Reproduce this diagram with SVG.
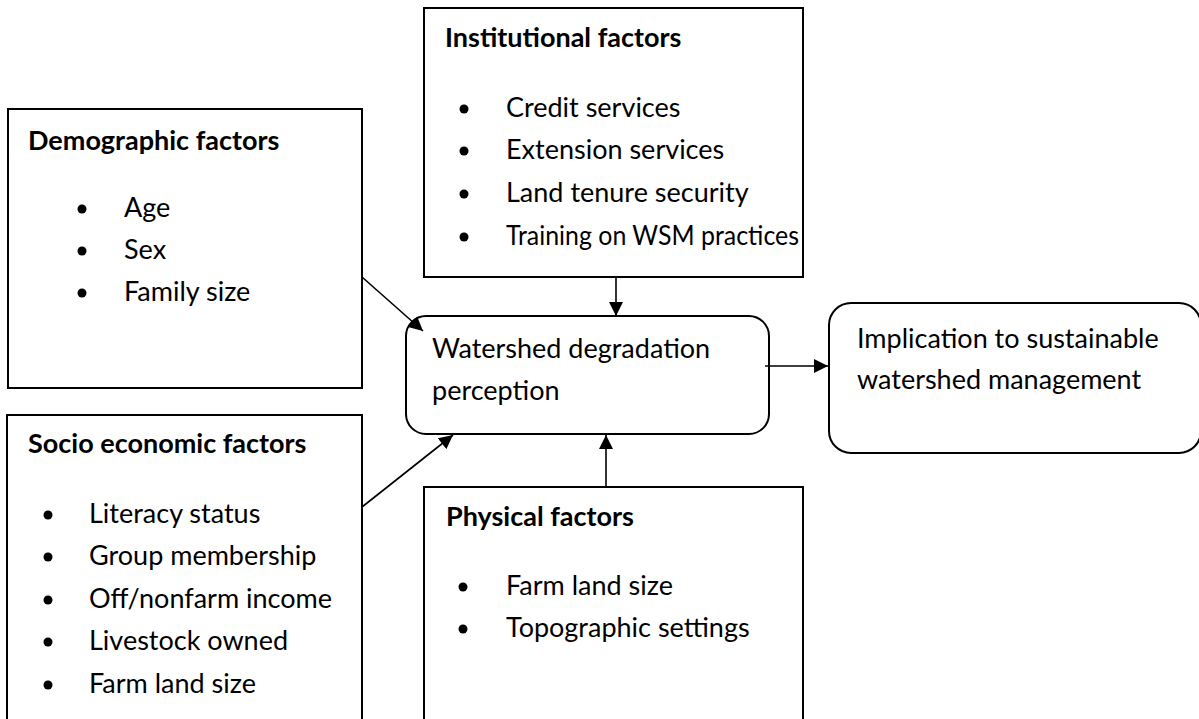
<svg xmlns="http://www.w3.org/2000/svg" width="1199" height="719" viewBox="0 0 1199 719">
<defs>
<style>
.box{fill:#fff;stroke:#000;stroke-width:2}
.t{font-family:Lato,"Liberation Sans",sans-serif;font-size:27px;fill:#000}
.h{font-family:Lato,"Liberation Sans",sans-serif;font-size:27px;font-weight:bold;fill:#000}
.c{stroke:#000;stroke-width:1.6;fill:none}
.b{fill:#000}
</style>
<marker id="ah" viewBox="0 0 10 10" refX="10" refY="5" markerWidth="14" markerHeight="14" markerUnits="userSpaceOnUse" orient="auto">
<path d="M0,0 L10,5 L0,10 z" fill="#000"/>
</marker>
</defs>
<rect width="1199" height="719" fill="#fff"/>
<g id="demographic">
<rect class="box" x="8" y="109" width="354" height="279"/>
<text class="h" x="28" y="150">Demographic factors</text>
<circle class="b" cx="82" cy="209" r="4.5"/><text class="t" x="124" y="217">Age</text>
<circle class="b" cx="82" cy="251" r="4.5"/><text class="t" x="124" y="259">Sex</text>
<circle class="b" cx="82" cy="293" r="4.5"/><text class="t" x="124" y="301">Family size</text>
</g>
<g id="institutional">
<rect class="box" x="424" y="8" width="379" height="269"/>
<text class="h" x="445" y="47">Institutional factors</text>
<circle class="b" cx="464" cy="109" r="4.5"/><text class="t" x="506" y="117">Credit services</text>
<circle class="b" cx="464" cy="151" r="4.5"/><text class="t" x="506" y="159">Extension services</text>
<circle class="b" cx="464" cy="194" r="4.5"/><text class="t" x="506" y="202">Land tenure security</text>
<circle class="b" cx="464" cy="237" r="4.5"/><text class="t" x="506" y="245" textLength="293" lengthAdjust="spacingAndGlyphs">Training on WSM practices</text>
</g>
<g id="socio">
<rect class="box" x="7" y="415" width="355" height="320"/>
<text class="h" x="28" y="453">Socio economic factors</text>
<circle class="b" cx="48" cy="515" r="4.5"/><text class="t" x="89" y="523">Literacy status</text>
<circle class="b" cx="48" cy="557" r="4.5"/><text class="t" x="89" y="565">Group membership</text>
<circle class="b" cx="48" cy="600" r="4.5"/><text class="t" x="89" y="608">Off/nonfarm income</text>
<circle class="b" cx="48" cy="642" r="4.5"/><text class="t" x="89" y="650">Livestock owned</text>
<circle class="b" cx="48" cy="685" r="4.5"/><text class="t" x="89" y="693">Farm land size</text>
</g>
<g id="physical">
<rect class="box" x="424" y="487" width="379" height="250"/>
<text class="h" x="446" y="526">Physical factors</text>
<circle class="b" cx="463" cy="587" r="4.5"/><text class="t" x="506" y="595">Farm land size</text>
<circle class="b" cx="463" cy="629" r="4.5"/><text class="t" x="506" y="637">Topographic settings</text>
</g>
<g id="perception">
<rect class="box" x="406" y="316" width="363" height="118" rx="20" ry="20"/>
<text class="t" x="432" y="358">Watershed degradation</text>
<text class="t" x="432" y="400">perception</text>
</g>
<g id="implication">
<rect class="box" x="829" y="303" width="372" height="150" rx="22" ry="22"/>
<text class="t" x="857" y="348">Implication to sustainable</text>
<text class="t" x="857" y="389">watershed management</text>
</g>
<g id="connectors">
<line class="c" x1="362" y1="277" x2="423" y2="331" marker-end="url(#ah)"/>
<line class="c" x1="616" y1="277" x2="616" y2="316" marker-end="url(#ah)"/>
<line class="c" x1="362" y1="507" x2="453" y2="435" marker-end="url(#ah)"/>
<line class="c" x1="606" y1="487" x2="606" y2="435" marker-end="url(#ah)"/>
<line class="c" x1="765" y1="366" x2="828" y2="366" marker-end="url(#ah)"/>
</g>
</svg>
